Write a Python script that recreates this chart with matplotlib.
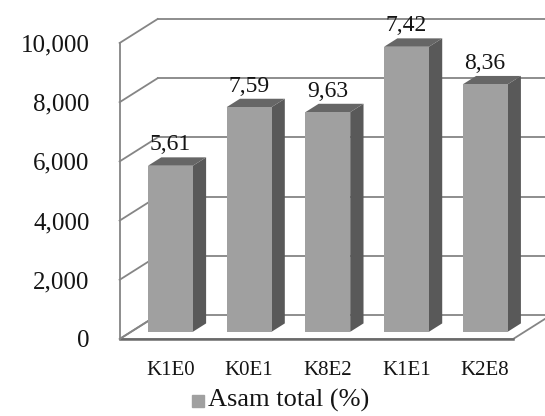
import numpy as np
from matplotlib import pyplot as plt
from matplotlib.patches import Polygon

# data
categories = ['K1E0', 'K0E1', 'K8E2', 'K1E1', 'K2E8']
values = [5610, 7590, 7420, 9630, 8360]
value_labels = ['5,61', '7,59', '9,63', '7,42', '8,36']
yticks = [0, 2000, 4000, 6000, 8000, 10000]
ytick_labels = ['0', '2,000', '4,000', '6,000', '8,000', '10,000']
series_name = 'Asam total (%)'

# pseudo-3D settings (depth offset in data units)
DX, DY = 0.483, 811
d_front, d_back = 0.3, 0.65
bar_w = 0.57

c_front = '#a0a0a0'
c_side = '#595959'
c_top = '#666666'
c_grid = '#858585'
c_text = '#141414'

plt.rcParams['font.family'] = ['Liberation Serif', 'DejaVu Serif']

fig = plt.figure(figsize=(5.45, 4.16), dpi=100)
ax = fig.add_axes([0, 0, 1, 1])
ax.set_xlim(-2.02, 4.905)
ax.set_ylim(-2601, 11453)
ax.axis('off')


def p(x, y, d):
    return (x + d * DX, y + d * DY)


x0, x1 = -0.5, len(categories) - 0.5
top = yticks[-1]

# floor
floor = Polygon([p(x0, 0, 0), p(x1, 0, 0), p(x1, 0, 1), p(x0, 0, 1)],
                closed=True, facecolor='white', edgecolor=c_grid, lw=1.3, zorder=1)
ax.add_patch(floor)
ax.plot([x0, x1], [0, 0], color='#6a6a6a', lw=1.8, zorder=1)

# gridlines: back wall and left wall
for v in yticks:
    if v > 0:
        ax.plot([p(x0, v, 1)[0], p(x1, v, 1)[0]], [p(x0, v, 1)[1], p(x1, v, 1)[1]],
                color=c_grid, lw=1.3, zorder=1)
    ax.plot([p(x0, v, 0)[0], p(x0, v, 1)[0]], [p(x0, v, 0)[1], p(x0, v, 1)[1]],
            color=c_grid, lw=1.3, zorder=1)
ax.plot([x0, x0], [0, top], color=c_grid, lw=1.3, zorder=1)

# bars
for i, (v, lab) in enumerate(zip(values, value_labels)):
    l, r = i - bar_w / 2, i + bar_w / 2
    front = [p(l, 0, d_front), p(r, 0, d_front), p(r, v, d_front), p(l, v, d_front)]
    side = [p(r, 0, d_front), p(r, 0, d_back), p(r, v, d_back), p(r, v, d_front)]
    topf = [p(l, v, d_front), p(r, v, d_front), p(r, v, d_back), p(l, v, d_back)]
    ax.add_patch(Polygon(side, closed=True, facecolor=c_side, edgecolor='none', zorder=3))
    ax.add_patch(Polygon(topf, closed=True, facecolor=c_top, edgecolor='none', zorder=3))
    ax.add_patch(Polygon(front, closed=True, facecolor=c_front, edgecolor='none', zorder=4))
    tx, ty = p(i, v, d_front)
    ax.text(tx, ty + 350, lab, ha='center', va='bottom', fontsize=17, color=c_text, zorder=5)

# y tick labels
for v, t in zip(yticks, ytick_labels):
    ax.text(x0 - 0.38, v - 80, t, ha='right', va='center', fontsize=18, color=c_text)

# category labels
for i, c in enumerate(categories):
    ax.text(p(i, 0, d_front)[0], -1080, c, ha='center', va='center', fontsize=15,
            color=c_text)

# legend
ax.plot([0.5], [-2090], marker='s', markersize=8, color=c_front, linestyle='none')
ax.text(0.62, -2090, series_name, ha='left', va='center', fontsize=19, color=c_text)

fig.savefig('out.png', dpi=100)
